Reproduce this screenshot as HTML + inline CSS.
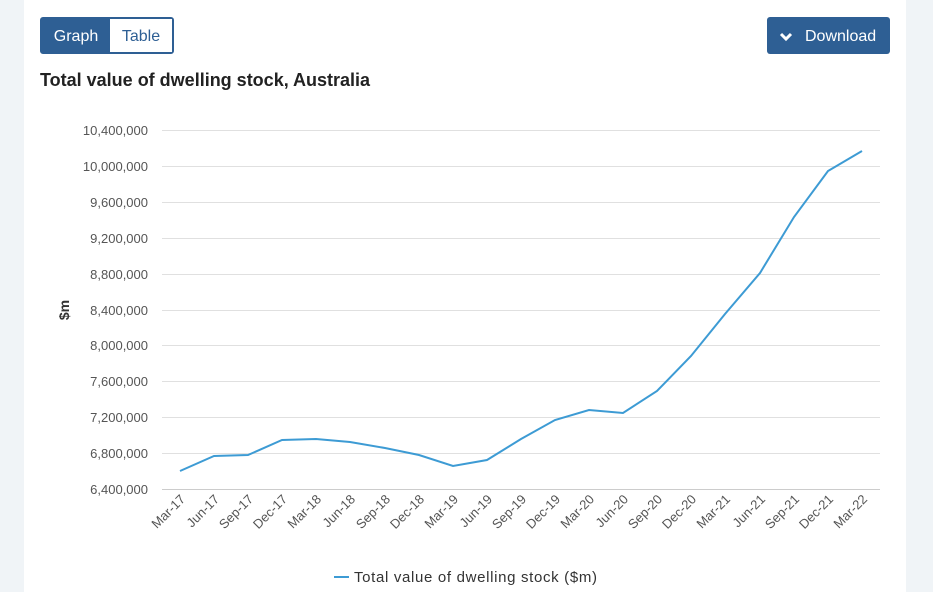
<!DOCTYPE html>
<html><head><meta charset="utf-8"><style>
body{margin:0;width:933px;height:592px;background:#f0f4f7;font-family:"Liberation Sans",sans-serif;overflow:hidden;position:relative}
.card{position:absolute;left:24px;top:0;width:882px;height:592px;background:#fff}
.btns{position:absolute;left:40px;top:17px;height:37px;display:flex;border:2px solid #2e5f94;border-radius:3px;box-sizing:border-box;width:134px}
.b1{background:#2e5f94;color:#fff;width:68px;font-size:16px;line-height:36px;text-align:center}
.b2{color:#2e5f94;flex:1;font-size:16px;line-height:36px;text-align:center;background:#fff}
.dl{position:absolute;left:767px;top:17px;width:123px;height:37px;background:#2e5f94;color:#fff;border-radius:3px;font-size:16px;line-height:39px}
h1{position:absolute;left:40px;top:70px;margin:0;font-size:18px;font-weight:bold;color:#222}
</style></head><body>
<div class="card"></div>
<div class="btns"><div class="b1">Graph</div><div class="b2">Table</div></div>
<div class="dl"><svg style="position:absolute;left:12px;top:15px" width="14" height="10"><path d="M2 2 L7 7 L12 2" stroke="#fff" stroke-width="3" fill="none"/></svg><span style="position:absolute;left:38px">Download</span></div>
<h1>Total value of dwelling stock, Australia</h1>
<svg width="933" height="592" style="position:absolute;left:0;top:0" font-family="Liberation Sans, sans-serif">
<g stroke="#e0e0e0" stroke-width="1">
<line x1="162" x2="880" y1="130.5" y2="130.5"/><line x1="162" x2="880" y1="166.5" y2="166.5"/><line x1="162" x2="880" y1="202.5" y2="202.5"/><line x1="162" x2="880" y1="238.5" y2="238.5"/><line x1="162" x2="880" y1="274.5" y2="274.5"/><line x1="162" x2="880" y1="310.5" y2="310.5"/><line x1="162" x2="880" y1="345.5" y2="345.5"/><line x1="162" x2="880" y1="381.5" y2="381.5"/><line x1="162" x2="880" y1="417.5" y2="417.5"/><line x1="162" x2="880" y1="453.5" y2="453.5"/><line x1="162" x2="880" y1="489.5" y2="489.5" stroke="#ccc"/>
</g>
<g font-size="13" fill="#555" text-anchor="end">
<text x="148" y="135">10,400,000</text><text x="148" y="171">10,000,000</text><text x="148" y="207">9,600,000</text><text x="148" y="243">9,200,000</text><text x="148" y="279">8,800,000</text><text x="148" y="315">8,400,000</text><text x="148" y="350">8,000,000</text><text x="148" y="386">7,600,000</text><text x="148" y="422">7,200,000</text><text x="148" y="458">6,800,000</text><text x="148" y="494">6,400,000</text>
</g>
<text transform="translate(69,310) rotate(-90)" font-size="14" font-weight="bold" fill="#333" text-anchor="middle">$m</text>
<polyline fill="none" stroke="#3d9bd4" stroke-width="2" points="180,471 214,456 248,455 282,440 316,439 350,442 385,448 419,455 453,466 487,460 521,439 555,420 589,410 623,413 657,391 691,356 725,314 760,273 794,217 828,171 862,151"/>
<g font-size="13" fill="#555" text-anchor="end">
<text transform="translate(186,500) rotate(-45)">Mar-17</text><text transform="translate(220,500) rotate(-45)">Jun-17</text><text transform="translate(254,500) rotate(-45)">Sep-17</text><text transform="translate(288,500) rotate(-45)">Dec-17</text><text transform="translate(322,500) rotate(-45)">Mar-18</text><text transform="translate(356,500) rotate(-45)">Jun-18</text><text transform="translate(391,500) rotate(-45)">Sep-18</text><text transform="translate(425,500) rotate(-45)">Dec-18</text><text transform="translate(459,500) rotate(-45)">Mar-19</text><text transform="translate(493,500) rotate(-45)">Jun-19</text><text transform="translate(527,500) rotate(-45)">Sep-19</text><text transform="translate(561,500) rotate(-45)">Dec-19</text><text transform="translate(595,500) rotate(-45)">Mar-20</text><text transform="translate(629,500) rotate(-45)">Jun-20</text><text transform="translate(663,500) rotate(-45)">Sep-20</text><text transform="translate(697,500) rotate(-45)">Dec-20</text><text transform="translate(731,500) rotate(-45)">Mar-21</text><text transform="translate(766,500) rotate(-45)">Jun-21</text><text transform="translate(800,500) rotate(-45)">Sep-21</text><text transform="translate(834,500) rotate(-45)">Dec-21</text><text transform="translate(868,500) rotate(-45)">Mar-22</text>
</g>
<line x1="334" x2="349" y1="577" y2="577" stroke="#3d9bd4" stroke-width="2"/>
<text x="354" y="582" font-size="15" fill="#333" textLength="243">Total value of dwelling stock ($m)</text>
</svg>
</body></html>
